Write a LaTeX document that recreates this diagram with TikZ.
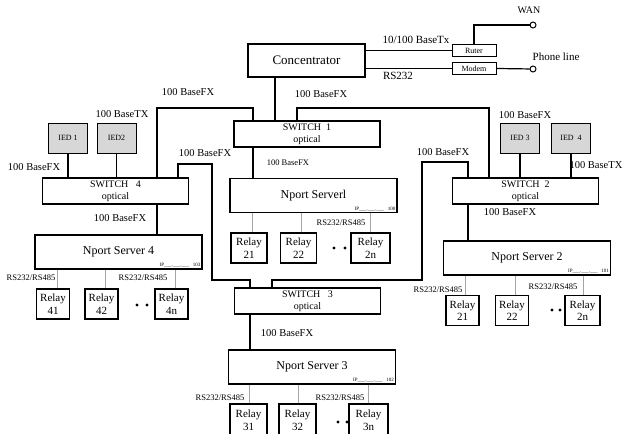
\documentclass[tikz,border=0pt]{standalone}
\usepackage{fontspec}
\setmainfont{Liberation Serif}
\definecolor{iedgray}{RGB}{215,215,215}
\definecolor{linkgray}{RGB}{165,165,165}
\begin{document}
\begin{tikzpicture}[x=1pt,y=-1pt,
  box/.style={draw, line width=1.2pt, rectangle, inner sep=0pt, align=center},
  concbox/.style={box, minimum width=117, minimum height=33, font=\fontsize{13}{15}\selectfont},
  smallbox/.style={draw, line width=1pt, rectangle, inner sep=0pt, minimum width=44, minimum height=12, font=\fontsize{8}{9}\selectfont},
  term/.style={draw, circle, line width=1pt, minimum size=6, inner sep=0pt, fill=white},
  switchbox/.style={box, minimum width=146, minimum height=26, font=\fontsize{10}{12}\selectfont},
  npbox/.style={box, minimum width=167, minimum height=34, font=\fontsize{12}{14}\selectfont},
  iedbox/.style={draw, line width=1pt, fill=iedgray, rectangle, inner sep=0pt, minimum width=39, minimum height=30, font=\fontsize{8}{9}\selectfont},
  relaybox/.style={box, minimum width=35, minimum height=30, font=\fontsize{11}{12.5}\selectfont},
  lbl/.style={inner sep=0pt, font=\fontsize{10.5}{12}\selectfont},
  biglbl/.style={inner sep=0pt, font=\fontsize{11}{13}\selectfont},
  smalllbl/.style={inner sep=0pt, font=\fontsize{8.5}{10}\selectfont},
  iplbl/.style={inner sep=0pt, anchor=south east, font=\fontsize{5}{6}\selectfont},
  link/.style={line width=1.2pt},
  graylink/.style={line width=1pt, draw=linkgray},
  dot/.style={fill, circle, inner sep=0pt, minimum size=3.2}
]
\clip (0,0) rectangle (628,433);
\fill[white] (0,0) rectangle (628,433);

% top part
\node[concbox] (conc) at (306.5,60.5) {Concentrator};
\node[smallbox] (ruter) at (474,50.5) {Ruter};
\node[smallbox] (modem) at (474,68.5) {Modem};
\node[term] (wan) at (533,25) {};
\node[term] (phone) at (533,69) {};
\node[lbl, font=\fontsize{10}{12}\selectfont] (wanlbl) at (529,10) {WAN};
\node[biglbl] (phonelbl) at (556,57) {Phone line};
\node[biglbl] (tx) at (416,40) {10/100 BaseTx};
\node[biglbl] (rs) at (398,76) {RS232};

% switches
\node[switchbox] (sw1) at (307,134) {SWITCH\ \ 1\\optical};
\node[switchbox] (sw4) at (115.5,191) {SWITCH\ \ \ 4\\optical};
\node[switchbox] (sw2) at (525.5,191) {SWITCH\ \ 2\\optical};
\node[switchbox] (sw3) at (307.5,301) {SWITCH\ \ \ 3\\optical};

% IEDs
\node[iedbox] (ied1) at (68,138) {IED 1};
\node[iedbox] (ied2) at (116.5,138) {IED2};
\node[iedbox] (ied3) at (520,138) {IED 3};
\node[iedbox] (ied4) at (571,138) {IED\ \ 4};

% Nport servers
\node[npbox] (np1) at (313.5,195.5) {\raisebox{2pt}{Nport Serverl}};
\node[npbox] (np4) at (118.5,252) {\raisebox{2pt}{Nport Server 4}};
\node[npbox] (np2) at (527,258) {\raisebox{2pt}{Nport Server 2}};
\node[npbox] (np3) at (312,367) {\raisebox{2pt}{Nport Server 3}};
\node[iplbl] (ip1) at ([xshift=-2pt,yshift=2pt]np1.south east) {IP\_\_\_.\_\_\_.\_\_\_\ \ \ 100};
\node[iplbl] (ip4) at ([xshift=-2pt,yshift=2pt]np4.south east) {IP\_\_\_.\_\_\_.\_\_\_\ \ \ 103};
\node[iplbl] (ip2) at ([xshift=-2pt,yshift=2pt]np2.south east) {IP\_\_\_.\_\_\_.\_\_\_\ \ \ 101};
\node[iplbl] (ip3) at ([xshift=-2pt,yshift=2pt]np3.south east) {IP\_\_\_.\_\_\_.\_\_\_\ \ \ 102};

% relays
\node[relaybox, minimum width=33] (r41) at (53,304) {Relay\\41};
\node[relaybox, minimum width=33] (r42) at (101.5,304) {Relay\\42};
\node[relaybox, minimum width=33] (r4n) at (171.5,304) {Relay\\4n};
\node[relaybox, minimum width=36] (r21) at (249,248) {Relay\\21};
\node[relaybox, minimum width=36] (r22) at (298.5,248) {Relay\\22};
\node[relaybox, minimum width=39] (r2n) at (370.5,248) {Relay\\2n};
\node[relaybox, minimum width=33] (s21) at (462.5,310.5) {Relay\\21};
\node[relaybox, minimum width=33] (s22) at (512,310.5) {Relay\\22};
\node[relaybox, minimum width=35] (s2n) at (582.5,310.5) {Relay\\2n};
\node[relaybox, minimum width=37, minimum height=32] (r31) at (248.5,420) {Relay\\31};
\node[relaybox, minimum width=37, minimum height=32] (r32) at (297.5,420) {Relay\\32};
\node[relaybox, minimum width=39, minimum height=32] (r3n) at (368.5,420) {Relay\\3n};

% dots
\node[dot] (d41) at (137,305) {};
\node[dot] (d42) at (147,305) {};
\node[dot] (d11) at (334,248) {};
\node[dot] (d12) at (345,248) {};
\node[dot] (d21) at (552,310) {};
\node[dot] (d22) at (560,310) {};
\node[dot] (d31) at (338,422) {};
\node[dot] (d32) at (347,422) {};

% labels
\node[lbl] (l1) at (188,92) {100 BaseFX};
\node[lbl] (l2) at (321,94) {100 BaseFX};
\node[lbl] (l3) at (122,114) {100 BaseTX};
\node[lbl] (l4) at (34,167) {100 BaseFX};
\node[lbl] (l5) at (205,153) {100 BaseFX};
\node[smalllbl] (l6) at (288,163) {100 BaseFX};
\node[lbl] (l7) at (120,218) {100 BaseFX};
\node[lbl] (l8) at (443,152) {100 BaseFX};
\node[lbl] (l9) at (525,115) {100 BaseFX};
\node[lbl] (l10) at (596,165) {100 BaseTX};
\node[lbl] (l11) at (510,212) {100 BaseFX};
\node[lbl] (l12) at (287,333) {100 BaseFX};
\node[smalllbl] (rsA) at (31,278) {RS232/RS485};
\node[smalllbl] (rsB) at (143,278) {RS232/RS485};
\node[smalllbl] (rsC) at (341,223) {RS232/RS485};
\node[smalllbl] (rsD) at (438,290) {RS232/RS485};
\node[smalllbl] (rsE) at (553,287) {RS232/RS485};
\node[smalllbl] (rsF) at (220,398) {RS232/RS485};
\node[smalllbl] (rsG) at (340,398) {RS232/RS485};

% top connectors
\draw[link] (ruter.west) -- (ruter.west -| conc.east);
\draw[link] (modem.west) -- (modem.west -| conc.east);
\draw[link] (ruter.north) -- (ruter.north |- wan) -- (wan);
\draw[link] (modem.east) -- (phone);
\draw[link] (conc.south -| 275,0) -- (sw1.north -| 275,0);

% switch network
\draw[link] (sw1.north -| 253,0) -- (253,108) -| (sw4.north -| 157,0);
\draw[link] (sw1.north -| 297,0) -- (297,108) -| (sw2.north -| 489,0);
\draw[link] (sw1.south -| 253,0) -- (np1.north -| 253,0);
\draw[link] (sw4.south -| 157,0) -- (np4.north -| 157,0);
\draw[link] (sw4.north -| 178,0) -- (178,164) -| (212,280) -| (sw3.north -| 250,0);
\draw[link] (sw2.north -| 468,0) -- (468,162) -| (422,280) -| (sw3.north -| 272,0);
\draw[link] (sw2.south -| 468,0) -- (np2.north -| 468,0);
\draw[link] (sw3.south -| 250,0) -- (np3.north -| 250,0);

% IED links
\draw[link] (ied1.south) -- (ied1.south |- sw4.north);
\draw[link] (ied2.south) -- (ied2.south |- sw4.north);
\draw[link] (ied3.south) -- (ied3.south |- sw2.north);
\draw[link] (ied4.south) -- (ied4.south |- sw2.north);

% relay links
\foreach \r/\n/\dx in {r41/np4/4, r42/np4/4, r4n/np4/4, r21/np1/3, r22/np1/3, r2n/np1/0, s21/np2/3, s22/np2/3, s2n/np2/1, r31/np3/1, r32/np3/1, r3n/np3/0}
  \draw[graylink] ([xshift=\dx pt]\r.north) -- ([xshift=\dx pt]\r.north |- \n.south);
\end{tikzpicture}
\end{document}
